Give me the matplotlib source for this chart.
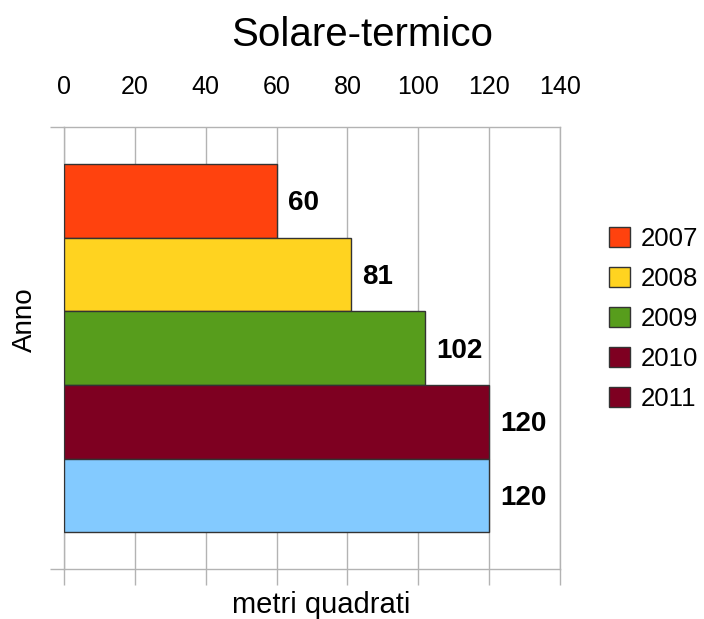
import matplotlib
matplotlib.use("Agg")
import matplotlib.pyplot as plt
from matplotlib.patches import Patch

plt.rcParams['font.family'] = ['Liberation Sans', 'DejaVu Sans']

anni = ["2007", "2008", "2009", "2010", "2011"]
valori = [60, 81, 102, 120, 120]
colori = ["#FF420E", "#FFD320", "#579D1C", "#7E0021", "#83CAFF"]
# the legend of the original shows 2011 with the same swatch as 2010
colori_legenda = ["#FF420E", "#FFD320", "#579D1C", "#7E0021", "#7E0021"]
xticks = [0, 20, 40, 60, 80, 100, 120, 140]

W, H = 704, 619
fig = plt.figure(figsize=(W / 100, H / 100), dpi=100)
ax = fig.add_axes([64 / W, 1 - 569 / H, (560 - 64) / W, (569 - 127) / H])

pos = list(range(len(anni)))
ax.barh(pos, valori, height=1.0, color=colori, edgecolor="#333333", linewidth=1, zorder=3)
for p, v in zip(pos, valori):
    ax.annotate(str(v), (v, p), xytext=(8, -2), textcoords="offset points",
                ha="left", va="center", fontsize=20, fontweight="bold")

ax.set_xlim(0, 140)
ax.set_ylim(5, -1)
ax.set_xticks(xticks)
ax.grid(axis="x", color="#b3b3b3", linewidth=1, zorder=0)
ax.tick_params(axis="x", bottom=True, top=True, labelbottom=False, labeltop=True,
               direction="out", length=11.5, width=1, color="#b3b3b3",
               labelsize=18, pad=9)
for t in ax.xaxis.get_major_ticks():
    t.tick2line.set_visible(False)
ax.set_yticks([-1, 5])
ax.set_yticklabels([])
ax.tick_params(axis="y", direction="out", length=10, width=1, color="#b3b3b3")
for s in ax.spines.values():
    s.set_color("#b3b3b3")
    s.set_linewidth(1)

fig.text(362 / W, 1 - 35 / H, "Solare-termico", ha="center", va="center", fontsize=29)
fig.text(321 / W, 1 - 605 / H, "metri quadrati", ha="center", va="center", fontsize=21)
fig.text(25 / W, 1 - 320 / H, "Anno", ha="center", va="center", rotation=90, fontsize=20)

handles = [Patch(facecolor=c, edgecolor="#333333", linewidth=1) for c in colori_legenda]
fig.legend(handles, anni, loc="upper left", bbox_to_anchor=(609 / W, 1 - 227 / H),
           frameon=False, fontsize=18.5, handlelength=0.8, handleheight=0.8,
           handletextpad=0.45, labelspacing=0.62, borderaxespad=0, borderpad=0)

fig.savefig("out.png", dpi=100)
